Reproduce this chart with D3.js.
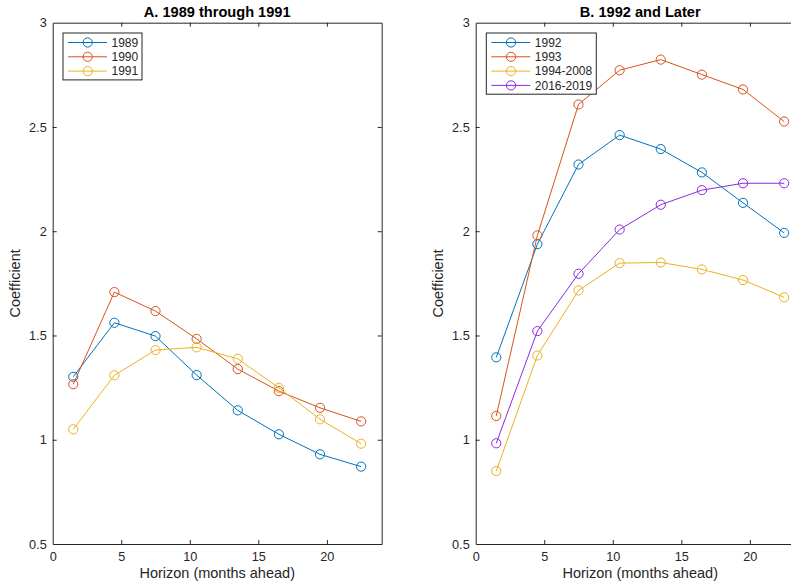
<!DOCTYPE html>
<html>
<head>
<meta charset="utf-8">
<script src="https://cdn.jsdelivr.net/npm/d3@7"></script>
<style>
  body { margin: 0; background: #fff; }
  svg { display: block; font-family: "Liberation Sans", Arial, sans-serif; }
</style>
</head>
<body>
<svg id="chart" width="791" height="584"></svg>
<script>
// horizons (months ahead) shared by every series
const horizons = [1.5, 4.5, 7.5, 10.5, 13.5, 16.5, 19.5, 22.5];

// panel A
const s1989 = [1.302, 1.561, 1.497, 1.310, 1.141, 1.026, 0.930, 0.871];
const s1990 = [1.266, 1.708, 1.617, 1.484, 1.339, 1.233, 1.153, 1.088];
const s1991 = [1.050, 1.309, 1.430, 1.443, 1.388, 1.249, 1.098, 0.981];

// panel B
const s1992 = [1.395, 1.938, 2.320, 2.461, 2.394, 2.282, 2.136, 1.992];
const s1993 = [1.114, 1.980, 2.608, 2.772, 2.823, 2.751, 2.680, 2.526];
const s1994 = [0.850, 1.404, 1.716, 1.847, 1.850, 1.817, 1.766, 1.683];
const s2016 = [0.983, 1.521, 1.796, 2.008, 2.127, 2.197, 2.230, 2.230];

const xTicks = [0, 5, 10, 15, 20];
const yTicks = [0.5, 1, 1.5, 2, 2.5, 3];

const panels = [
  {
    title: 'A. 1989 through 1991', left: 52.7,
    series: [
      { name: '1989', values: s1989, color: '#0072BD' },
      { name: '1990', values: s1990, color: '#D95319' },
      { name: '1991', values: s1991, color: '#EDB120' }
    ],
    legend: { x: 63, y: 33, w: 79 }
  },
  {
    title: 'B. 1992 and Later', left: 475.7,
    series: [
      { name: '1992', values: s1992, color: '#0072BD' },
      { name: '1993', values: s1993, color: '#D95319' },
      { name: '1994-2008', values: s1994, color: '#EDB120' },
      { name: '2016-2019', values: s2016, color: '#8B2BE0' }
    ],
    legend: { x: 486.3, y: 33, w: 110 }
  }
];

const svg = d3.select('#chart');
const axisColor = '#262626';
const yTop = 22.7, yBottom = 544, plotW = 329;

panels.forEach(p => {
  const x = d3.scaleLinear().domain([0, 24]).range([p.left, p.left + plotW]);
  const y = d3.scaleLinear().domain([0.5, 3]).range([yBottom, yTop]);
  const g = svg.append('g');

  /* axes: ticks inward on all four sides, MATLAB style */
  const tick = 4;
  g.append('g').attr('transform', `translate(0,${yBottom})`)
    .call(d3.axisBottom(x).tickValues(xTicks).tickSizeInner(-tick).tickSizeOuter(0).tickPadding(8));
  g.append('g').attr('transform', `translate(0,${yTop})`)
    .call(d3.axisTop(x).tickValues(xTicks).tickSizeInner(-tick).tickSizeOuter(0).tickFormat(''));
  g.append('g').attr('transform', `translate(${p.left},0)`)
    .call(d3.axisLeft(y).tickValues(yTicks).tickSizeInner(-tick).tickSizeOuter(0).tickPadding(6).tickFormat(d3.format('')));
  g.append('g').attr('transform', `translate(${p.left + plotW},0)`)
    .call(d3.axisRight(y).tickValues(yTicks).tickSizeInner(-tick).tickSizeOuter(0).tickFormat(''));

  g.selectAll('.domain').attr('stroke', axisColor);
  g.selectAll('.tick line').attr('stroke', axisColor);
  g.selectAll('.tick text').attr('fill', axisColor).style('font-size', '12.7px');
  // ticks sitting on the box corners are hidden by the frame anyway
  g.selectAll('.tick').filter(d => d === 0 || d === 0.5 || d === 3).select('line').attr('stroke', 'none');

  /* series */
  const line = d3.line().x((d, i) => x(horizons[i])).y(d => y(d));
  p.series.forEach(s => {
    g.append('path').datum(s.values)
      .attr('d', line).attr('fill', 'none')
      .attr('stroke', s.color).attr('stroke-width', 1);
    g.selectAll(null).data(s.values).enter().append('circle')
      .attr('cx', (d, i) => x(horizons[i])).attr('cy', d => y(d))
      .attr('r', 4.6).attr('fill', 'none')
      .attr('stroke', s.color).attr('stroke-width', 1);
  });

  /* titles and labels */
  g.append('text').attr('x', (x(0) + x(24)) / 2).attr('y', 16.5)
    .attr('text-anchor', 'middle').attr('font-weight', 'bold')
    .style('font-size', '14.6px').attr('fill', '#000').text(p.title);
  g.append('text').attr('x', (x(0) + x(24)) / 2).attr('y', 578)
    .attr('text-anchor', 'middle').style('font-size', '14.5px')
    .attr('fill', axisColor).text('Horizon (months ahead)');
  g.append('text')
    .attr('transform', `translate(${p.left - 32.5},${(yTop + yBottom) / 2}) rotate(-90)`)
    .attr('text-anchor', 'middle').style('font-size', '14.5px')
    .attr('fill', axisColor).text('Coefficient');

  /* legend */
  const L = p.legend, rowH = 14.3;
  const lg = g.append('g').attr('transform', `translate(${L.x},${L.y})`);
  lg.append('rect').attr('width', L.w).attr('height', p.series.length * rowH + 4)
    .attr('fill', '#fff').attr('stroke', axisColor).attr('stroke-width', 1);
  p.series.forEach((s, i) => {
    const cy = 9.5 + i * rowH;
    lg.append('line').attr('x1', 5).attr('x2', 44).attr('y1', cy).attr('y2', cy)
      .attr('stroke', s.color).attr('stroke-width', 1);
    lg.append('circle').attr('cx', 24.7).attr('cy', cy).attr('r', 4.6)
      .attr('fill', 'none').attr('stroke', s.color);
    lg.append('text').attr('x', 48.5).attr('y', cy + 4.3)
      .style('font-size', '12px').attr('fill', axisColor).text(s.name);
  });
});
</script>
</body>
</html>
